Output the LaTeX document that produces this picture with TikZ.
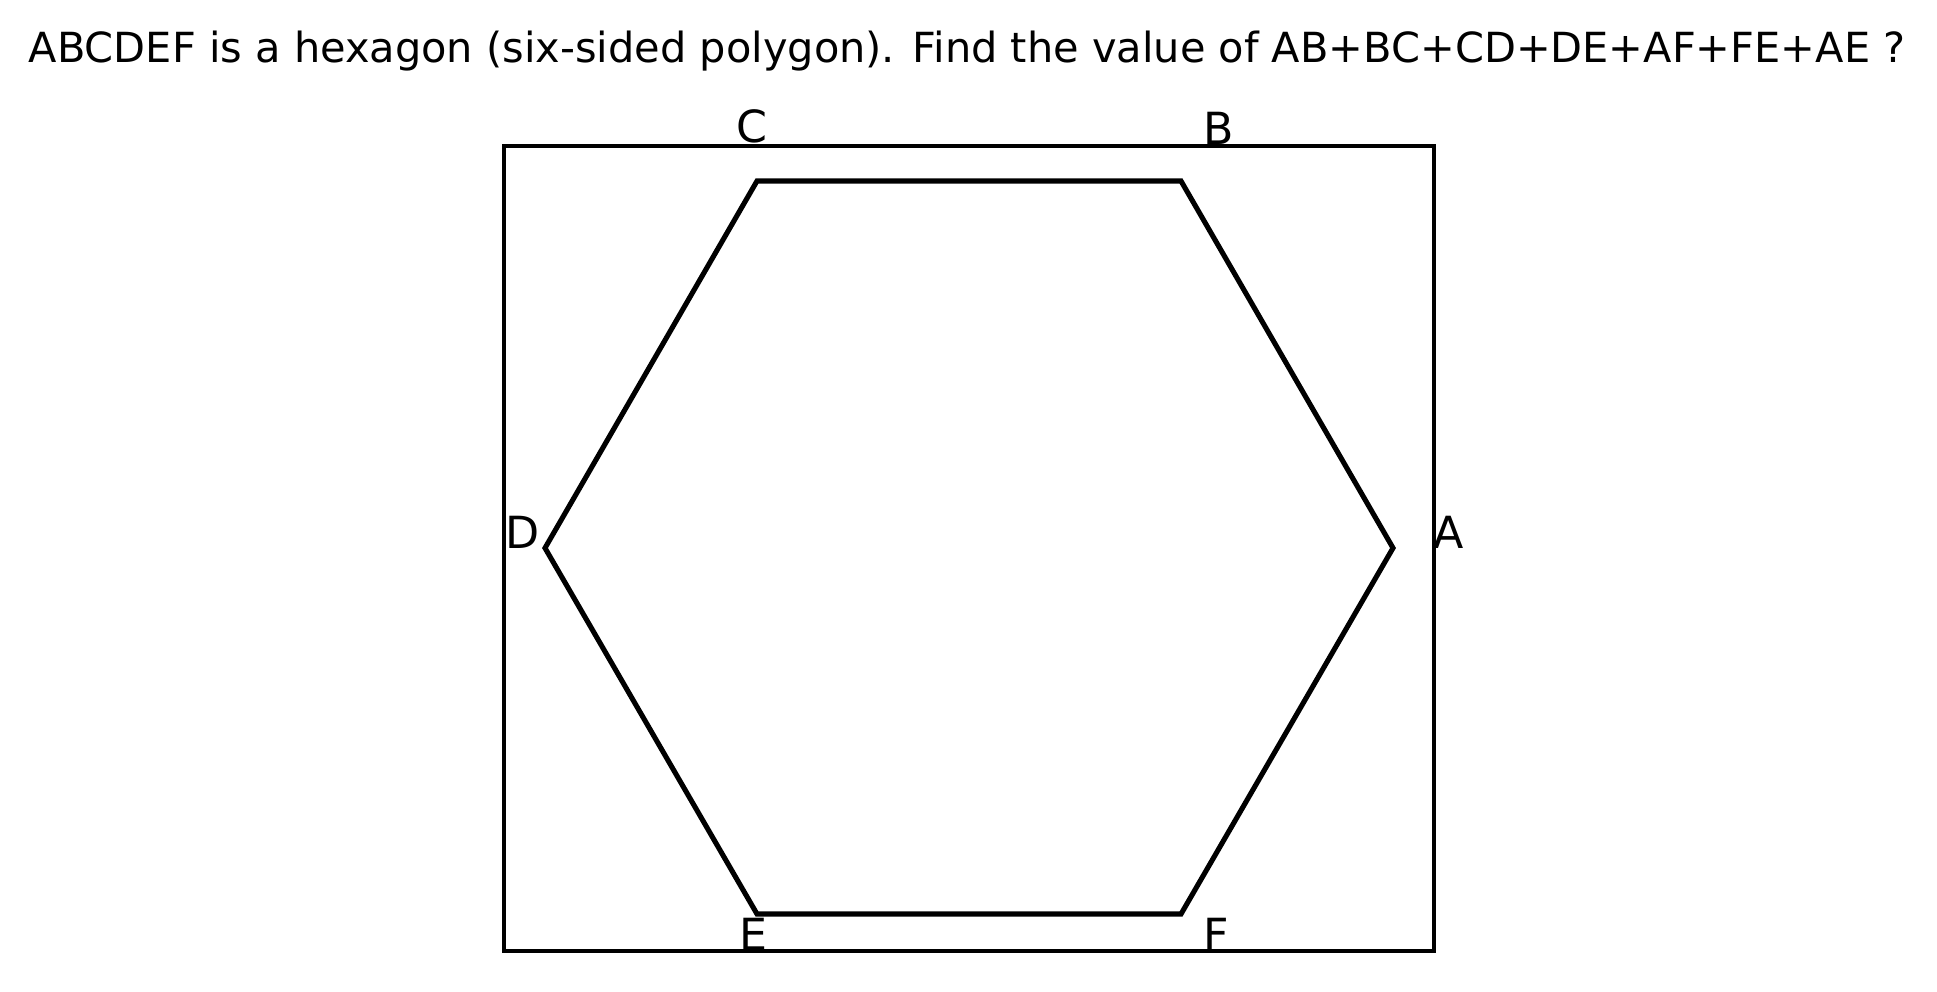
\documentclass[tikz,border=0pt]{standalone}
\usepackage{fontspec}
\setmainfont{DejaVu Sans}
\usepackage{tikz}
\usetikzlibrary{positioning}

\begin{document}
\begin{tikzpicture}[x=0.01cm,y=-0.01cm,
font=\fontsize{12.6pt}{14pt}\selectfont,
frame/.style={line width=0.95pt},
hexside/.style={line width=1.45pt,line join=miter},
vlabel/.style={inner sep=0pt,anchor=base west},]
\useasboundingbox (0,0) rectangle (1937,991);
% title
\node[inner sep=0pt,anchor=base,font=\fontsize{11.8pt}{14pt}\selectfont] (title) at (967,63)
  {ABCDEF is a hexagon (six-sided polygon). Find the value of AB+BC+CD+DE+AF+FE+AE ?};
% axes box
\draw[frame] (504,146) rectangle (1434,951);
% corners
\coordinate (A) at (1393,548);
\coordinate (B) at (1181,181);
\coordinate (C) at (757,181);
\coordinate (D) at (545,548);
\coordinate (E) at (757,914);
\coordinate (F) at (1181,914);
\draw[hexside] (A) -- (B) -- (C) -- (D) -- (E) -- (F) -- cycle;
% labels
\node[vlabel] (labA) at (1433,548) {A};
\node[vlabel] (labB) at (1203,145) {B};
\node[vlabel] (labC) at (736,143) {C};
\node[vlabel] (labD) at (505,548) {D};
\node[vlabel] (labE) at (739,950) {E};
\node[vlabel] (labF) at (1203,950) {F};
\end{tikzpicture}
\end{document}
